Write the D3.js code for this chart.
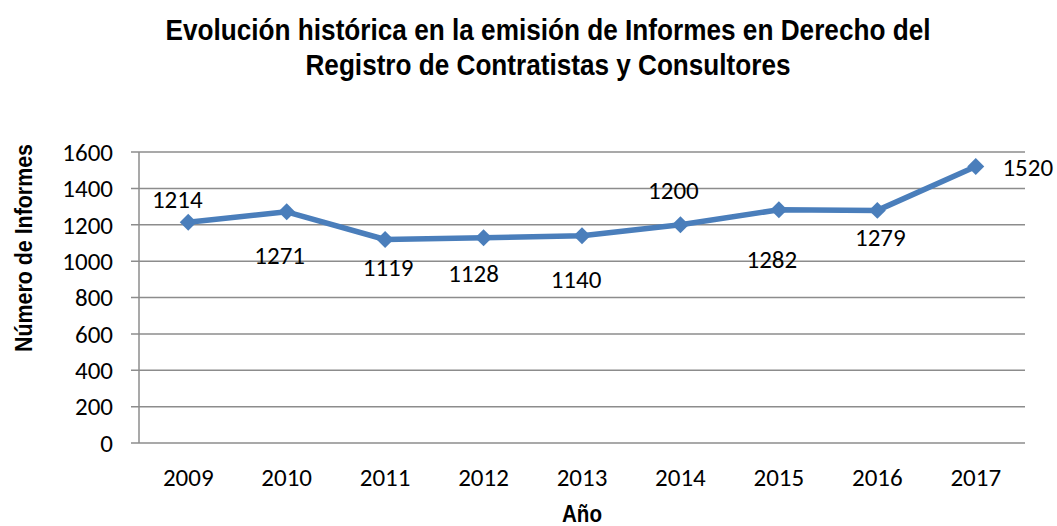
<!DOCTYPE html>
<html><head><meta charset="utf-8">
<script src="https://cdn.jsdelivr.net/npm/d3@7"></script>
<style>
body{margin:0;background:#fff;}
svg{display:block;}
</style></head>
<body>
<svg id="chart" width="1057" height="526"></svg>
<script>
const years = ["2009","2010","2011","2012","2013","2014","2015","2016","2017"];
const informes = [1214,1271,1119,1128,1140,1200,1282,1279,1520];
const yTicks = [0,200,400,600,800,1000,1200,1400,1600];
const titleLines = ["Evolución histórica en la emisión de Informes en Derecho del","Registro de Contratistas y Consultores"];
const xTitle = "Año";
const yTitle = "Número de Informes";
// label offsets (dx, dy) from each marker, as placed in the original
const labelOffsets = [[-11,-14],[-7,52],[3,37],[-10,44],[-6,52],[-7,-26],[-7,58],[3,36],[52,9]];

const svg = d3.select("#chart");
const m = {left:139, right:1025, top:152, bottom:443};
const x = d3.scaleBand().domain(years).range([m.left, m.right]);
const y = d3.scaleLinear().domain([0,1600]).range([m.bottom, m.top]);
const numFont = "Carlito, Lato, 'Open Sans', sans-serif";
const boldFont = "'Liberation Sans Narrow', 'Arial Narrow', 'Liberation Sans', Arial, sans-serif";
const grid = "#8c8c8c";

// gridlines
svg.append("g").selectAll("line").data(yTicks).join("line")
  .attr("x1", m.left - 8).attr("x2", m.right)
  .attr("y1", d => y(d)).attr("y2", d => y(d))
  .attr("stroke", grid).attr("stroke-width", 1.5);

// y axis line
svg.append("line").attr("x1", m.left).attr("x2", m.left)
  .attr("y1", m.top).attr("y2", m.bottom)
  .attr("stroke", grid).attr("stroke-width", 1.5);

// y tick labels
svg.append("g").selectAll("text").data(yTicks).join("text")
  .attr("x", 113).attr("y", d => y(d)).attr("dy", "0.35em")
  .attr("text-anchor", "end").attr("font-family", numFont)
  .attr("font-size", 25).attr("fill", "#000").text(d => d);

// x tick labels
svg.append("g").selectAll("text").data(years).join("text")
  .attr("x", d => x(d) + x.bandwidth()/2).attr("y", 486)
  .attr("text-anchor", "middle").attr("font-family", numFont)
  .attr("font-size", 25).attr("fill", "#000").text(d => d);

// line
const pts = years.map((yr,i) => ({yr, v: informes[i], off: labelOffsets[i]}));
const line = d3.line().x(d => x(d.yr) + x.bandwidth()/2).y(d => y(d.v));
svg.append("path").datum(pts).attr("d", line)
  .attr("fill", "none").attr("stroke", "#4a7ebb").attr("stroke-width", 5.5)
  .attr("stroke-linejoin", "round");

// markers
svg.append("g").selectAll("path").data(pts).join("path")
  .attr("transform", d => `translate(${x(d.yr) + x.bandwidth()/2},${y(d.v)}) rotate(45)`)
  .attr("d", "M-6,-6H6V6H-6Z")
  .attr("fill", "#4a7ebb");

// data labels
svg.append("g").selectAll("text").data(pts).join("text")
  .attr("x", d => x(d.yr) + x.bandwidth()/2 + d.off[0])
  .attr("y", d => y(d.v) + d.off[1])
  .attr("text-anchor", "middle").attr("font-family", numFont)
  .attr("font-size", 25).attr("fill", "#000").text(d => d.v);

// title
const titleWidths = [765, 485];
svg.append("g").selectAll("text").data(titleLines).join("text")
  .attr("x", 548).attr("y", (d,i) => 40 + i*35)
  .attr("text-anchor", "middle").attr("font-family", boldFont)
  .attr("font-weight", "bold").attr("font-size", 30).attr("fill", "#000")
  .attr("textLength", (d,i) => titleWidths[i]).attr("lengthAdjust", "spacingAndGlyphs")
  .text(d => d);

// axis titles
svg.append("text").attr("x", 582).attr("y", 522)
  .attr("text-anchor", "middle").attr("font-family", boldFont)
  .attr("font-weight", "bold").attr("font-size", 23)
  .attr("textLength", 40).attr("lengthAdjust", "spacingAndGlyphs").text(xTitle);
svg.append("text").attr("transform", "translate(32,248) rotate(-90)")
  .attr("text-anchor", "middle").attr("font-family", boldFont)
  .attr("font-weight", "bold").attr("font-size", 24)
  .attr("textLength", 208).attr("lengthAdjust", "spacingAndGlyphs").text(yTitle);
</script>
</body></html>
